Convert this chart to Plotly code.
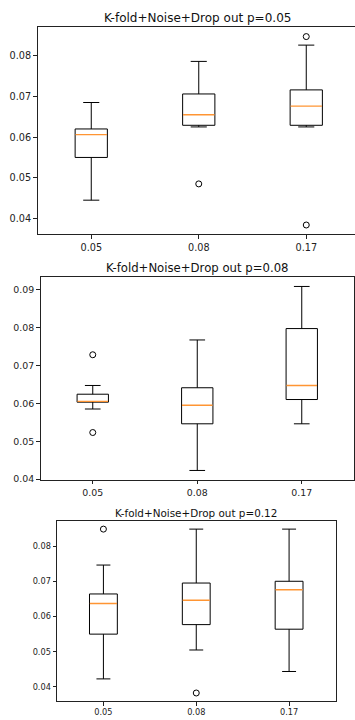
import plotly.graph_objects as go

# Learning-rate groups on the x axis
categories = ["0.05", "0.08", "0.17"]
positions = [1, 2, 3]

# Panel 1: dropout p=0.05
p05_lower = [0.0445, 0.0625, 0.0625]
p05_q1 = [0.0550, 0.0629, 0.0629]
p05_median = [0.0606, 0.0655, 0.0676]
p05_q3 = [0.0620, 0.0706, 0.0716]
p05_upper = [0.0685, 0.0786, 0.0826]
p05_outlier_x = [2, 3, 3]
p05_outlier_y = [0.0485, 0.0847, 0.0384]

# Panel 2: dropout p=0.08
p08_lower = [0.0585, 0.0423, 0.0546]
p08_q1 = [0.0603, 0.0546, 0.0610]
p08_median = [0.0605, 0.0595, 0.0647]
p08_q3 = [0.0624, 0.0641, 0.0797]
p08_upper = [0.0647, 0.0767, 0.0908]
p08_outlier_x = [1, 1]
p08_outlier_y = [0.0728, 0.0523]

# Panel 3: dropout p=0.12
p12_lower = [0.0423, 0.0505, 0.0444]
p12_q1 = [0.0550, 0.0577, 0.0564]
p12_median = [0.0637, 0.0646, 0.0676]
p12_q3 = [0.0664, 0.0695, 0.0700]
p12_upper = [0.0746, 0.0848, 0.0848]
p12_outlier_x = [1, 2]
p12_outlier_y = [0.0848, 0.0383]

titles = ["K-fold+Noise+Drop out p=0.05",
          "K-fold+Noise+Drop out p=0.08",
          "K-fold+Noise+Drop out p=0.12"]

W, H = 355, 720
BOX_W = 0.3      # box width in axis units
CAP_W = 0.15     # whisker cap width in axis units
FONT = "DejaVu Sans"
INK = "#222"

panels = [
    dict(lower=p05_lower, q1=p05_q1, med=p05_median, q3=p05_q3, upper=p05_upper,
         ox=p05_outlier_x, oy=p05_outlier_y,
         px=(37.5, 355), py=(27, 236), xr=[0.5, 0.5 + (355 - 37.5) / 107.5],
         yr=[0.0361, 0.0871], yt=[0.04, 0.05, 0.06, 0.07, 0.08],
         tick=9.7, tfont=12, ty=18, tx=197, right=False),
    dict(lower=p08_lower, q1=p08_q1, med=p08_median, q3=p08_q3, upper=p08_upper,
         ox=p08_outlier_x, oy=p08_outlier_y,
         px=(40.5, 354), py=(279.3, 483.3), xr=[0.5, 3.5],
         yr=[0.0398, 0.0932], yt=[0.04, 0.05, 0.06, 0.07, 0.08, 0.09],
         tick=9.4, tfont=11.7, ty=270, tx=197, right=True),
    dict(lower=p12_lower, q1=p12_q1, med=p12_median, q3=p12_q3, upper=p12_upper,
         ox=p12_outlier_x, oy=p12_outlier_y,
         px=(57, 335.5), py=(524.3, 706), xr=[0.5, 3.5],
         yr=[0.0360, 0.0872], yt=[0.04, 0.05, 0.06, 0.07, 0.08],
         tick=8.2, tfont=10.4, ty=516.5, tx=196, right=True),
]


def box_paths(pos, lo, q1, q3, hi):
    """Outline, whiskers and caps of one box as a broken polyline."""
    h, c = BOX_W / 2, CAP_W / 2
    xs = [pos - h, pos + h, pos + h, pos - h, pos - h, None,
          pos, pos, None, pos, pos, None,
          pos - c, pos + c, None, pos - c, pos + c, None]
    ys = [q1, q1, q3, q3, q1, None,
          q3, hi, None, q1, lo, None,
          hi, hi, None, lo, lo, None]
    return xs, ys


fig = go.Figure()
layout = dict(width=W, height=H, margin=dict(l=0, r=0, t=0, b=0),
              paper_bgcolor="white", plot_bgcolor="white", showlegend=False,
              font=dict(family=FONT, color=INK), annotations=[])

for i, p in enumerate(panels, start=1):
    xa = "x" if i == 1 else f"x{i}"
    ya = "y" if i == 1 else f"y{i}"

    bx, by = [], []
    for pos, lo, q1, q3, hi in zip(positions, p["lower"], p["q1"], p["q3"], p["upper"]):
        xs, ys = box_paths(pos, lo, q1, q3, hi)
        bx += xs
        by += ys
    fig.add_trace(go.Scatter(x=bx, y=by, mode="lines",
                             line=dict(color="black", width=1),
                             xaxis=xa, yaxis=ya, hoverinfo="skip"))

    # orange median segments
    mx, my = [], []
    for pos, m in zip(positions, p["med"]):
        mx += [pos - BOX_W / 2 + 0.004, pos + BOX_W / 2 - 0.004, None]
        my += [m, m, None]
    fig.add_trace(go.Scatter(x=mx, y=my, mode="lines",
                             line=dict(color="#ff9533", width=1.4),
                             xaxis=xa, yaxis=ya, hoverinfo="skip"))

    fig.add_trace(go.Scatter(x=p["ox"], y=p["oy"], mode="markers",
                             marker=dict(symbol="circle-open", size=6,
                                         color="black", line=dict(width=1)),
                             xaxis=xa, yaxis=ya, hoverinfo="skip"))

    x0, x1 = p["px"]
    y0, y1 = p["py"]
    key_x = "xaxis" if i == 1 else f"xaxis{i}"
    key_y = "yaxis" if i == 1 else f"yaxis{i}"
    layout[key_x] = dict(domain=[x0 / W, x1 / W], range=p["xr"], anchor=ya,
                         tickvals=positions, ticktext=categories,
                         ticks="outside", ticklen=3.5, tickwidth=0.8,
                         tickcolor=INK, showgrid=False, zeroline=False,
                         showline=True, linecolor=INK, linewidth=1,
                         mirror=True, tickfont=dict(size=p["tick"], family=FONT, color=INK))
    layout[key_y] = dict(domain=[1 - y1 / H, 1 - y0 / H], range=p["yr"], anchor=xa,
                         tickvals=p["yt"], tickformat=".2f",
                         ticks="outside", ticklen=3.5, tickwidth=0.8,
                         tickcolor=INK, showgrid=False, zeroline=False,
                         showline=True, linecolor=INK, linewidth=1,
                         mirror=p["right"], tickfont=dict(size=p["tick"], family=FONT, color=INK))
    layout["annotations"].append(dict(
        text=titles[i - 1], xref="paper", yref="paper",
        x=p["tx"] / W, y=1 - p["ty"] / H, xanchor="center", yanchor="middle",
        showarrow=False, font=dict(size=p["tfont"], family=FONT, color="#111")))

fig.update_layout(**layout)
fig.write_html("out.html")
